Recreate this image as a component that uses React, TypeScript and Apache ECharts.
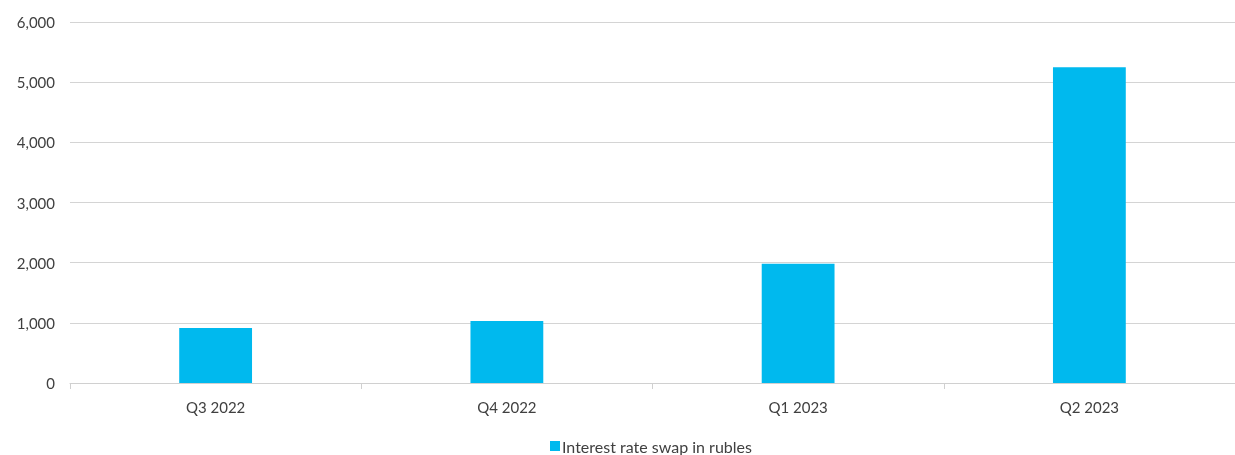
import React, { useEffect, useRef } from "react";
import * as echarts from "echarts";

const categories = ["Q3 2022", "Q4 2022", "Q1 2023", "Q2 2023"];
const swapValues = [915, 1030, 1980, 5250];
const seriesName = "Interest rate swap in rubles";

export default function App() {
  const ref = useRef<HTMLDivElement>(null);
  useEffect(() => {
    if (!ref.current) return;
    const chart = echarts.init(ref.current, undefined, { renderer: "svg" });
    const font = "Lato, 'Noto Sans', sans-serif";
    chart.setOption({
      animation: false,
      grid: { left: 70, right: 0, top: 22, bottom: 72, containLabel: false },
      legend: {
        top: 438,
        left: 550,
        padding: [0, 0, 0, 0],
        data: [seriesName],
        icon: "rect",
        itemWidth: 10,
        itemHeight: 10,
        itemGap: 10,
        textStyle: { color: "#404040", fontSize: 16, fontFamily: font, padding: [0, 0, 0, -3] },
      },
      xAxis: {
        type: "category",
        data: categories,
        axisLine: { lineStyle: { color: "#d0d0d0" } },
        axisTick: { show: true, alignWithLabel: false, length: 6, lineStyle: { color: "#d0d0d0" } },
        axisLabel: { color: "#404040", fontSize: 15, fontFamily: font, margin: 16 },
      },
      yAxis: {
        type: "value",
        min: 0,
        max: 6000,
        interval: 1000,
        axisLine: { show: false },
        axisTick: { show: false },
        splitLine: { lineStyle: { color: "#d4d4d4" } },
        axisLabel: {
          color: "#404040",
          fontSize: 15,
          fontFamily: font,
          margin: 15,
          formatter: (v: number) => v.toLocaleString("en-US"),
        },
      },
      series: [
        {
          name: seriesName,
          type: "bar",
          data: swapValues,
          barWidth: "25%",
          itemStyle: { color: "#00b9ee" },
        },
      ],
    });
    return () => chart.dispose();
  }, []);
  return (
    <div
      ref={ref}
      style={{ position: "fixed", left: 0, top: 0, width: 1235, height: 455 }}
    />
  );
}
